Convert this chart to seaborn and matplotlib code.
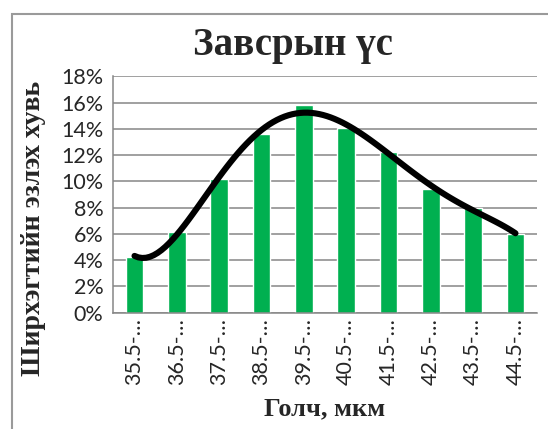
import numpy as np
import pandas as pd
import seaborn as sns
import matplotlib.pyplot as plt
from matplotlib.patches import Rectangle

# data
categories = ["35.5-…", "36.5-…", "37.5-…", "38.5-…", "39.5-…",
              "40.5-…", "41.5-…", "42.5-…", "43.5-…", "44.5-…"]
shares = [4.27, 6.15, 10.2, 13.6, 15.8, 14.05, 12.27, 9.45, 8.0, 6.0]
yticks = [0, 2, 4, 6, 8, 10, 12, 14, 16, 18]

title = "Завсрын үс"
xlabel = "Голч, мкм"
ylabel = "Ширхэгтийн эзлэх хувь"

df = pd.DataFrame({"cat": categories, "share": shares, "pos": np.arange(len(categories))})

sns.set_style("white")
plt.rcParams['font.family'] = ['Lato', 'DejaVu Sans']
serif = ['Liberation Serif', 'DejaVu Serif']
grey = "#868686"

fig = plt.figure(figsize=(5.48, 4.29), dpi=100)
ax = fig.add_axes([0.2068, 0.2711, 0.7725, 0.5506])

sns.barplot(data=df, x="cat", y="share", color="#00B050", width=0.41,
            saturation=1, ax=ax, zorder=2)
# polynomial trendline like the spreadsheet one
sns.regplot(data=df, x="pos", y="share", order=5, ci=None, scatter=False,
            line_kws=dict(color="black", lw=4.4, solid_capstyle="round", zorder=3), ax=ax)

ax.set_xlim(-0.5, len(categories) - 0.5)
ax.set_ylim(0, 18)
ax.set_yticks(yticks)
ax.set_yticklabels([f"{t}%" for t in yticks], fontsize=15.5)
ax.yaxis.grid(True, color=grey, lw=1.1)
ax.set_axisbelow(True)
ax.tick_params(axis="y", length=5, color=grey, width=1.1, pad=2)

ax.set_xticks(np.arange(len(categories)))
ax.set_xticklabels(categories, rotation=90, fontsize=15.5)
ax.set_xticks(np.arange(-0.5, len(categories)), minor=True)
ax.tick_params(axis="x", which="major", length=0, pad=4)
ax.tick_params(axis="x", which="minor", length=5, color=grey, width=1.1)

for s in ["top", "right"]:
    ax.spines[s].set_visible(False)
for s in ["left", "bottom"]:
    ax.spines[s].set_color(grey)
    ax.spines[s].set_linewidth(1.1)

ax.set_xlabel(xlabel, fontsize=19, fontweight="bold", family=serif, labelpad=9)
ax.set_ylabel(ylabel, fontsize=20, fontweight="bold", family=serif)
ax.yaxis.set_label_coords(-0.16, 0.355)

fig.text(0.535, 0.893, title, fontsize=28, fontweight="bold", family=serif,
         ha="center", va="center")

fig.patches.append(Rectangle((12 / 548, -0.1), 1.2, (429 - 14) / 429 + 0.1,
                             transform=fig.transFigure, fill=False,
                             edgecolor="#9a9a9a", lw=1.5))

fig.savefig("out.png", dpi=100)
